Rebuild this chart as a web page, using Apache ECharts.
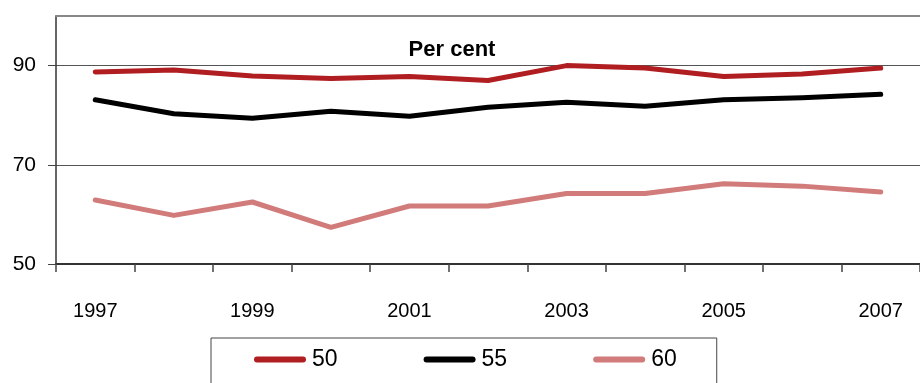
<!DOCTYPE html>
<html>
<head>
<meta charset="utf-8">
<script src="https://cdn.jsdelivr.net/npm/echarts@6/dist/echarts.min.js"></script>
<style>html,body{margin:0;padding:0;background:#fff;}#c{width:920px;height:383px;}</style>
</head>
<body>
<div id="c"></div>
<script>
var years = ['1997','1998','1999','2000','2001','2002','2003','2004','2005','2006','2007'];
var s50 = [88.7, 89.1, 87.9, 87.4, 87.8, 87.0, 90.0, 89.5, 87.8, 88.3, 89.5];
var s55 = [83.1, 80.3, 79.4, 80.8, 79.8, 81.6, 82.6, 81.8, 83.1, 83.5, 84.2];
var s60 = [62.9, 59.8, 62.5, 57.4, 61.7, 61.7, 64.2, 64.2, 66.2, 65.7, 64.5];
var seriesNames = ['50', '55', '60'];
var yTicks = {min: 50, max: 100, interval: 20};
var titleText = 'Per cent';

var numFont = '"Liberation Sans", sans-serif';
var chart = echarts.init(document.getElementById('c'));
var capsule = 'path://M3,0 L49,0 A3,3 0 0 1 49,6 L3,6 A3,3 0 0 1 3,0 Z';
function mk(name, data, color) {
  return {
    name: name, type: 'line', data: data, symbol: 'none',
    lineStyle: {color: color, width: 5, cap: 'round', join: 'round'},
    itemStyle: {color: color}
  };
}
chart.setOption({
  animation: false,
  title: {
    text: titleText, left: 447, top: 34, textAlign: 'center',
    textStyle: {fontFamily: '"Liberation Sans", sans-serif', fontWeight: 'bold', fontSize: 22, color: '#000'}
  },
  grid: {left: 56, right: -11, top: 16, bottom: 119, containLabel: false},
  legend: {
    left: 211, top: 338,
    padding: [10, 40, 40, 43],
    borderColor: '#444', borderWidth: 1,
    itemWidth: 52, itemHeight: 6, itemGap: 86,
    icon: capsule,
    textStyle: {fontFamily: numFont, fontSize: 23, color: '#000', padding: [0, 0, 0, 1]},
    data: seriesNames
  },
  xAxis: [{
    type: 'category', data: years, boundaryGap: true,
    axisLine: {lineStyle: {color: '#333', width: 2}},
    axisTick: {show: true, length: 8, interval: 0, lineStyle: {color: '#444', width: 1.5}},
    axisLabel: {interval: 1, margin: 37, fontFamily: numFont, fontSize: 20, color: '#000'},
    splitLine: {show: false}
  }, {
    type: 'category', data: years, position: 'top', boundaryGap: true,
    axisLine: {lineStyle: {color: '#888', width: 2}},
    axisTick: {show: false}, axisLabel: {show: false}, splitLine: {show: false}
  }],
  yAxis: {
    type: 'value', min: yTicks.min, max: yTicks.max, interval: yTicks.interval,
    axisLine: {show: true, lineStyle: {color: '#333', width: 1.5}},
    axisTick: {show: true, length: 8, lineStyle: {color: '#444', width: 1}},
    axisLabel: {margin: 20, fontFamily: numFont, fontSize: 21, color: '#000', showMaxLabel: false},
    splitLine: {show: true, lineStyle: {color: '#555', width: 1}}
  },
  series: [
    mk(seriesNames[0], s50, '#B01E22'),
    mk(seriesNames[1], s55, '#000000'),
    mk(seriesNames[2], s60, '#D27B7B')
  ]
});
</script>
</body>
</html>
